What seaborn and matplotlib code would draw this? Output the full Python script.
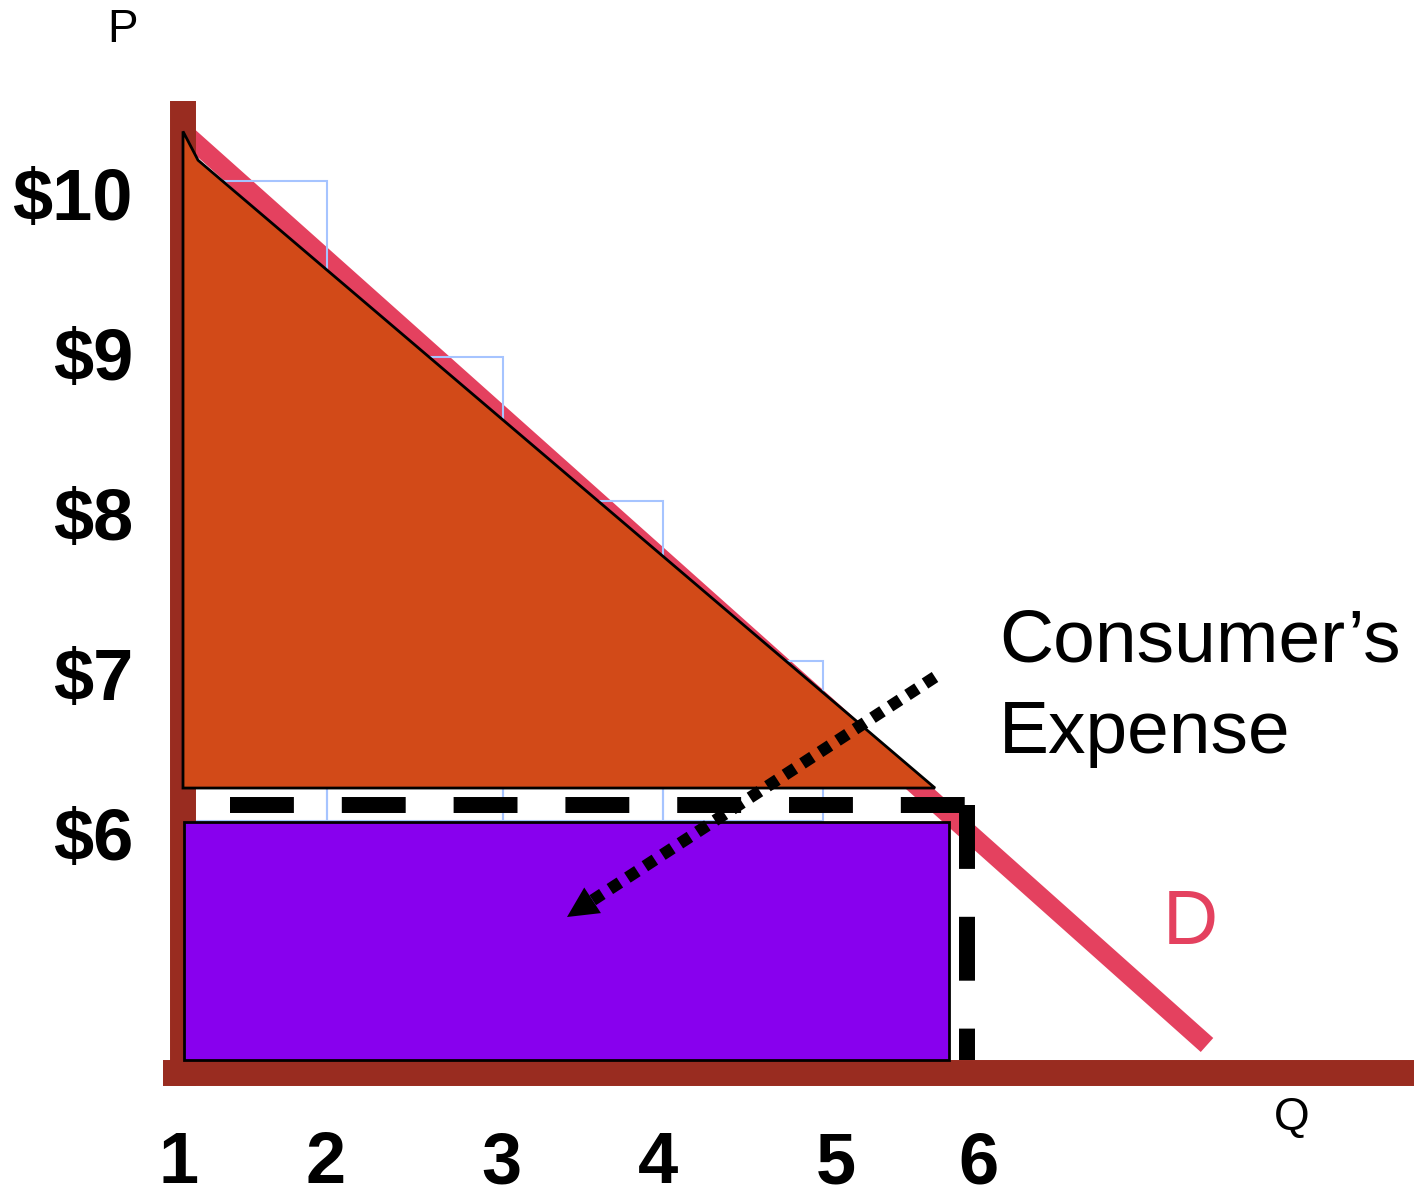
import numpy as np
import matplotlib
matplotlib.use('Agg')
import matplotlib.pyplot as plt
import seaborn as sns

# demand curve (quantity, price)
demand_q = [1.0, 7.4]
demand_p = [10.31, 4.6]

# willingness-to-pay steps (light blue outlines)
step_left = [1.0, 1.9, 3.0, 4.0]
step_right = [1.9, 3.0, 4.0, 5.0]
step_top = [10.0, 8.9, 8.0, 7.0]
step_floor = 6.0

# consumer surplus triangle
surplus_q = [1.0, 1.094, 5.7, 1.0]
surplus_p = [10.31, 10.13, 6.206, 6.206]

# consumer's expense rectangle
expense_q = [1.006, 5.79]
expense_p = [4.506, 5.994]

# dashed price / quantity guide
guide_q = [1.294, 5.9]
guide_p = [6.1, 4.506]

# dotted arrow
arrow_start = (5.7, 6.9)
arrow_tip = (3.4, 5.4)

price_ticks = [10, 9, 8, 7, 6]
price_labels = ['$10', '$9', '$8', '$7', '$6']
qty_labels = ['1', '2', '3', '4', '5', '6']
qty_label_pos = [0.97, 1.89, 2.99, 3.97, 5.08, 5.97]

AXIS_BROWN = '#992C20'
DEMAND_PINK = '#E4415F'
SURPLUS_ORANGE = '#D24A18'
EXPENSE_PURPLE = '#8800EE'
STEP_BLUE = '#A6C4FF'

sns.set_theme(style='white')
plt.rcParams['font.family'] = ['Liberation Sans', 'DejaVu Sans']
plt.rcParams['text.color'] = 'black'

fig = plt.figure(figsize=(14.14, 11.98), dpi=100)
ax = fig.add_axes([0, 0, 1, 1])
ax.set_xlim(-0.14375, 8.69375)
ax.set_ylim(3.64375, 11.13125)
ax.axis('off')

# axes drawn as thick brown bars
ax.plot([1.0, 1.0], [10.5, 4.344], color=AXIS_BROWN, lw=18.7, solid_capstyle='butt', zorder=3.2)
ax.plot([0.875, 8.8], [4.425, 4.425], color=AXIS_BROWN, lw=18.7, solid_capstyle='butt', zorder=1)

# demand line
sns.lineplot(x=demand_q, y=demand_p, ax=ax, color=DEMAND_PINK, lw=13.5,
             solid_capstyle='butt', zorder=2)

# blue step outlines
ax.bar(step_left, np.array(step_top) - step_floor, width=np.array(step_right) - np.array(step_left),
       bottom=step_floor, align='edge', fill=False, edgecolor=STEP_BLUE, lw=1.5, zorder=3)

# surplus triangle and expense rectangle
ax.fill(surplus_q, surplus_p, facecolor=SURPLUS_ORANGE, edgecolor='black', lw=2, zorder=4)
ax.fill([expense_q[0], expense_q[1], expense_q[1], expense_q[0]],
        [expense_p[0], expense_p[0], expense_p[1], expense_p[1]],
        facecolor=EXPENSE_PURPLE, edgecolor='black', lw=2, zorder=4)

# dashed guides
ax.plot([guide_q[0], guide_q[1]], [guide_p[0], guide_p[0]], color='black', lw=11.5,
        linestyle=(0, (4, 3)), dash_capstyle='butt', zorder=5)
ax.plot([guide_q[1], guide_q[1]], [guide_p[0], guide_p[1]], color='black', lw=11.5,
        linestyle=(0, (4, 3)), dash_capstyle='butt', zorder=5)

# dotted arrow
sx, sy = arrow_start
tx, ty = arrow_tip
bx, by = tx + 0.07 * (sx - tx), ty + 0.07 * (sy - ty)
ax.plot([sx, bx], [sy, by], color='black', lw=8.6, linestyle=(0, (1, 0.75)),
        dash_capstyle='butt', zorder=6)
ax.annotate('', xy=(tx, ty), xytext=(tx + 0.1 * (sx - tx), ty + 0.1 * (sy - ty)),
            arrowprops=dict(arrowstyle='-|>,head_length=1.1,head_width=0.55', mutation_scale=20,
                            color='black', lw=0, shrinkA=0, shrinkB=0), zorder=6)

# labels
for p, lab in zip(price_ticks, price_labels):
    ax.text(0.6875, p - 0.244, lab, ha='right', va='baseline', fontsize=52,
            fontweight='bold', color='black')
for q, lab in zip(qty_label_pos, qty_labels):
    ax.text(q, 3.735, lab, ha='center', va='baseline', fontsize=52,
            fontweight='bold', color='black')

ax.text(0.619, 10.944, 'P', ha='center', va='center', fontsize=33, color='black')
ax.text(7.93, 4.144, 'Q', ha='center', va='center', fontsize=33, color='black')
ax.text(7.294, 5.35, 'D', ha='center', va='center', fontsize=55, color=DEMAND_PINK)
ax.text(6.1, 6.994, 'Consumer\u2019s', ha='left', va='baseline', fontsize=54, color='black')
ax.text(6.1, 6.425, 'Expense', ha='left', va='baseline', fontsize=54, color='black')

fig.savefig('out.png', dpi=100)
